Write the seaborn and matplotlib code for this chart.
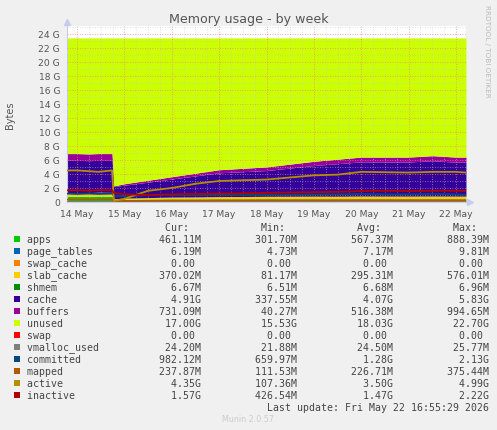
import pandas as pd
import matplotlib.pyplot as plt
import seaborn as sns
from matplotlib.patches import Rectangle
from matplotlib.ticker import MultipleLocator

# sample times (day of May) and values in GiB
dias = [13.79, 14.0, 14.25, 14.45, 14.74, 14.78, 15.0, 15.5, 16.0, 16.5, 17.0,
        17.5, 18.0, 18.5, 19.0, 19.5, 20.0, 20.5, 21.0, 21.5, 22.0, 22.21]

apps = [0.80, 0.82, 0.80, 0.85, 0.82, 0.35, 0.40, 0.42, 0.45, 0.44, 0.46,
        0.45, 0.47, 0.46, 0.46, 0.45, 0.47, 0.46, 0.46, 0.47, 0.46, 0.46]
page_tables = [0.008, 0.008, 0.008, 0.009, 0.009, 0.005, 0.005, 0.006, 0.006, 0.006, 0.006,
               0.006, 0.007, 0.007, 0.007, 0.007, 0.007, 0.007, 0.007, 0.007, 0.006, 0.006]
swap_cache = [0.0] * 22
slab_cache = [0.50, 0.52, 0.52, 0.53, 0.54, 0.10, 0.15, 0.20, 0.24, 0.27, 0.30,
              0.32, 0.33, 0.35, 0.36, 0.36, 0.37, 0.37, 0.37, 0.37, 0.37, 0.37]
shmem = [0.007, 0.007, 0.007, 0.007, 0.007, 0.0065, 0.0065, 0.0065, 0.0066, 0.0066, 0.0066,
         0.0066, 0.0066, 0.0066, 0.0067, 0.0067, 0.0067, 0.0067, 0.0067, 0.0067, 0.0067, 0.0067]
cache = [4.64, 4.58, 4.56, 4.53, 4.56, 1.74, 1.84, 2.19, 2.57, 3.00, 3.39,
         3.54, 3.67, 4.02, 4.37, 4.64, 4.87, 4.86, 4.86, 5.03, 4.84, 4.83]
buffers = [0.95, 0.97, 0.96, 0.98, 0.97, 0.10, 0.20, 0.28, 0.33, 0.38, 0.44,
           0.48, 0.52, 0.56, 0.60, 0.64, 0.68, 0.70, 0.70, 0.72, 0.72, 0.73]
unused = [16.5, 16.5, 16.55, 16.5, 16.5, 21.1, 20.8, 20.3, 19.8, 19.3, 18.8,
          18.6, 18.4, 18.0, 17.6, 17.3, 17.0, 17.0, 17.0, 16.8, 17.0, 17.0]
swap = [0.0] * 22

vmalloc_used = [0.024, 0.025, 0.024, 0.025, 0.025, 0.022, 0.023, 0.024, 0.024, 0.024, 0.024,
                0.024, 0.024, 0.025, 0.025, 0.024, 0.025, 0.024, 0.024, 0.025, 0.024, 0.024]
committed = [1.20, 1.15, 1.20, 1.15, 1.20, 0.90, 0.80, 0.95, 1.00, 1.00, 1.05,
             1.00, 1.05, 1.05, 1.10, 1.10, 1.15, 1.10, 1.10, 1.15, 1.10, 1.00]
mapped = [0.35, 0.36, 0.35, 0.36, 0.35, 0.12, 0.14, 0.17, 0.19, 0.20, 0.21,
          0.22, 0.22, 0.23, 0.23, 0.24, 0.24, 0.24, 0.24, 0.24, 0.24, 0.24]
active = [4.50, 4.50, 4.40, 4.30, 4.50, 0.15, 0.45, 1.60, 2.00, 2.60, 3.00,
          3.10, 3.20, 3.50, 3.80, 3.90, 4.30, 4.25, 4.20, 4.30, 4.30, 4.20]
inactive = [1.65, 1.70, 1.60, 1.70, 1.65, 1.30, 1.10, 1.00, 1.10, 1.15, 1.20,
            1.25, 1.30, 1.35, 1.40, 1.45, 1.55, 1.60, 1.55, 1.60, 1.60, 1.57]

dia_ticks = [14, 15, 16, 17, 18, 19, 20, 21, 22]
dia_labels = [f"{d} May" for d in dia_ticks]
y_ticks = list(range(0, 25, 2))
y_labels = ["0"] + [f"{v} G" for v in y_ticks[1:]]

nomes = ['apps', 'page_tables', 'swap_cache', 'slab_cache', 'shmem', 'cache', 'buffers',
         'unused', 'swap', 'vmalloc_used', 'committed', 'mapped', 'active', 'inactive']
cores = ['#00CC00', '#0066B3', '#FF8000', '#FFCC00', '#008F00', '#330099', '#990099',
         '#CCFF00', '#FF0000', '#808080', '#00487D', '#B35A00', '#B38F00', '#B30000']
cur = ['461.11M', '6.19M', '0.00 ', '370.02M', '6.67M', '4.91G', '731.09M',
       '17.00G', '0.00 ', '24.20M', '982.12M', '237.87M', '4.35G', '1.57G']
mins = ['301.70M', '4.73M', '0.00 ', '81.17M', '6.51M', '337.55M', '40.27M',
        '15.53G', '0.00 ', '21.88M', '659.97M', '111.53M', '107.36M', '426.54M']
avgs = ['567.37M', '7.17M', '0.00 ', '295.31M', '6.68M', '4.07G', '516.38M',
        '18.03G', '0.00 ', '24.50M', '1.28G', '226.71M', '3.50G', '1.47G']
maxs = ['888.39M', '9.81M', '0.00 ', '576.01M', '6.96M', '5.83G', '994.65M',
        '22.70G', '0.00 ', '25.77M', '2.13G', '375.44M', '4.99G', '2.22G']

W, H = 497, 431
sns.set_theme(style="white")
plt.rcParams['font.family'] = ['DejaVu Sans']

fig = plt.figure(figsize=(W / 100, H / 100), dpi=100, facecolor='#F0F0F0')
ax = fig.add_axes([67 / W, 1 - 203 / H, (466 - 67) / W, (203 - 27) / H])
ax.set_facecolor('white')

pilha = [apps, page_tables, swap_cache, slab_cache, shmem, cache, buffers, unused, swap]
ax.stackplot(dias, *pilha, colors=cores[:9], linewidth=0, zorder=1)

linhas = pd.DataFrame({'dia': dias * 5,
                       'valor': vmalloc_used + committed + mapped + active + inactive,
                       'serie': sum([[n] * len(dias) for n in nomes[9:]], [])})
sns.lineplot(data=linhas, x='dia', y='valor', hue='serie', palette=dict(zip(nomes[9:], cores[9:])),
             linewidth=1.3, legend=False, ax=ax, zorder=3)

ax.set_xlim(13.789, 22.211)
ax.set_ylim(0, 25.1)
ax.set_xticks(dia_ticks)
ax.set_xticklabels(dia_labels)
ax.set_yticks(y_ticks)
ax.set_yticklabels(y_labels)
ax.xaxis.set_minor_locator(MultipleLocator(0.25))
ax.yaxis.set_minor_locator(MultipleLocator(1))
ax.set_axisbelow(False)
ax.grid(which='minor', color='#C8C8C8', linestyle=(0, (1, 2)), linewidth=0.6, alpha=0.7)
ax.grid(which='major', color='#F08080', linestyle=(0, (1, 2)), linewidth=0.6, alpha=0.9)
ax.tick_params(axis='both', which='major', labelsize=6.6, labelcolor='#555555',
               length=2, width=0.6, color='#E08080', pad=3)
ax.tick_params(axis='both', which='minor', length=0)
ax.set_xlabel('')
ax.set_ylabel('')
for lado in ['top', 'right']:
    ax.spines[lado].set_visible(False)
for lado in ['left', 'bottom']:
    ax.spines[lado].set_color('#C8CCE8')
    ax.spines[lado].set_linewidth(0.8)
ax.plot([0], [1.02], marker='^', color='#C8CCF0', markersize=4, transform=ax.transAxes, clip_on=False)
ax.plot([1.01], [0], marker='>', color='#C8CCF0', markersize=4, transform=ax.transAxes, clip_on=False)

fig.text(249 / W, 1 - 19 / H, 'Memory usage - by week', ha='center', va='center',
         fontsize=9.1, color='#555555')
fig.text(10 / W, 1 - 115 / H, 'Bytes', rotation=90, ha='center', va='center',
         fontsize=7, color='#555555')
fig.text(487 / W, 1 - 5 / H, 'RRDTOOL / TOBI OETIKER', rotation=270, ha='center', va='top',
         fontsize=5.2, color='#BBBBBB')
fig.text(248 / W, 1 - 420 / H, 'Munin 2.0.57', ha='center', va='center',
         fontsize=5.8, color='#CCCCCC')

# legend table
mono = dict(family='DejaVu Sans Mono', fontsize=7.1, color='#444444')
x0 = 26.7
cabecalho = 'Cur:'.rjust(27) + 'Min:'.rjust(16) + 'Avg:'.rjust(16) + 'Max:'.rjust(16)
fig.text(x0 / W, 1 - 228 / H, cabecalho, ha='left', va='center', **mono)
for i, nome in enumerate(nomes):
    y = 240 + i * 11.98
    linha = nome.ljust(29 - len(cur[i])) + cur[i] + mins[i].rjust(16) + avgs[i].rjust(16) + maxs[i].rjust(16)
    fig.text(x0 / W, 1 - y / H, linha, ha='left', va='center', **mono)
    fig.add_artist(Rectangle((14 / W, 1 - (y + 3) / H), 6 / W, 6 / H,
                             transform=fig.transFigure, facecolor=cores[i], edgecolor='none'))
fig.text(x0 / W, 1 - 407.7 / H, 'Last update: Fri May 22 16:55:29 2026'.rjust(77),
         ha='left', va='center', **mono)

plt.savefig('out.png', dpi=100, facecolor=fig.get_facecolor())
